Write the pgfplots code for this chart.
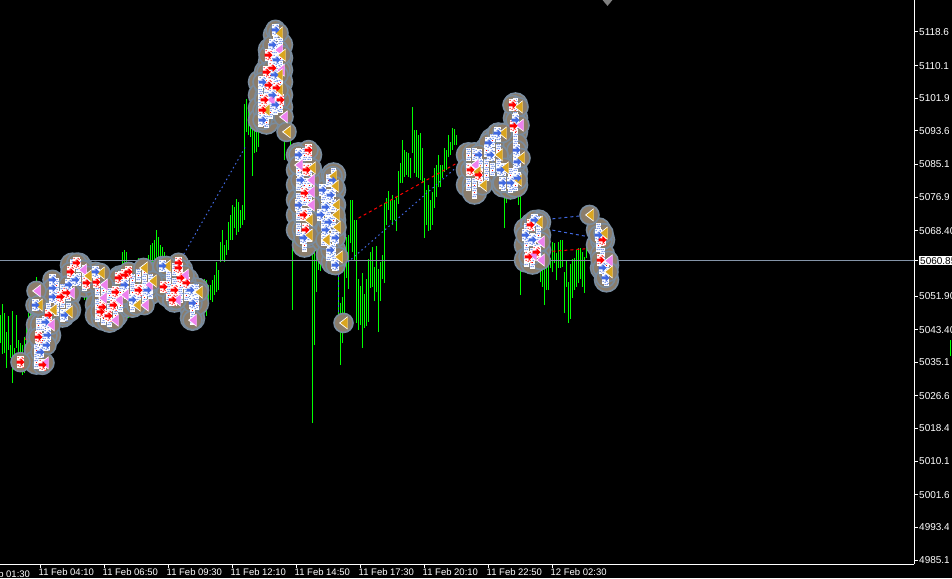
\documentclass[border=0pt]{standalone}
\usepackage{fontspec}
\setmainfont{Liberation Sans}
\usepackage{pgfplots}
\usepackage{pgfplotstable}
\pgfplotsset{compat=1.18}
\definecolor{bargreen}{HTML}{00FF00}
\definecolor{blobfill}{HTML}{8B7D6B}
\definecolor{blobline}{HTML}{7A8C9E}
\definecolor{mblue}{HTML}{4169E1}
\definecolor{mviolet}{HTML}{EE82EE}
\definecolor{mgold}{HTML}{DAA520}
\definecolor{priceline}{HTML}{8494A8}
% ---- plot marks
\pgfdeclareplotmark{blob}{\pgfpathcircle{\pgfpointorigin}{9.5pt}\pgfusepathqfillstroke}
\pgfdeclareplotmark{blobbig}{\pgfpathcircle{\pgfpointorigin}{12pt}\pgfusepathqfillstroke}
\newcommand{\dotat}[2]{\pgfpathrectangle{\pgfqpoint{#1pt}{#2pt}}{\pgfqpoint{1pt}{1pt}}}
\newcommand{\whitecol}{\pgfsetfillcolor{white}\pgfpathrectangle{\pgfqpoint{-3.5pt}{-6pt}}{\pgfqpoint{7pt}{12pt}}\pgfusepathqfill}
\pgfdeclareplotmark{whiteR}{\whitecol
  \pgfsetfillcolor{red}\dotat{-3}{4}\dotat{1}{4}\dotat{-1}{2}\dotat{2}{3}\dotat{1}{-4}\dotat{-3}{-4}\dotat{-1}{-5}\dotat{2}{-6}\pgfusepathqfill}
\pgfdeclareplotmark{whiteB}{\whitecol
  \pgfsetfillcolor{mblue}\dotat{-3}{4}\dotat{1}{4}\dotat{-1}{2}\dotat{2}{3}\dotat{1}{-4}\dotat{-3}{-4}\dotat{-1}{-5}\dotat{2}{-6}\pgfusepathqfill}
\pgfdeclareplotmark{whiteM}{\pgfsetfillcolor{white}\pgfpathrectangle{\pgfqpoint{-2.5pt}{-6.5pt}}{\pgfqpoint{5pt}{13pt}}\pgfusepathqfill
  \pgfsetfillcolor{mblue}\dotat{-2}{5}\dotat{0}{5}\dotat{-1}{3}\dotat{1}{3}\dotat{-2}{1}\dotat{0}{1}\dotat{-1}{-3}\dotat{1}{-3}\dotat{-2}{-5}\dotat{0}{-5}\pgfusepathqfill
  \pgfsetfillcolor{red}\dotat{-1}{-1}\pgfusepathqfill}
\pgfdeclareplotmark{arrowRt}{%
  \pgfpathmoveto{\pgfqpoint{-4pt}{-1.5pt}}\pgfpathlineto{\pgfqpoint{-4pt}{1.5pt}}\pgfpathlineto{\pgfqpoint{0pt}{1.5pt}}%
  \pgfpathlineto{\pgfqpoint{0pt}{4pt}}\pgfpathlineto{\pgfqpoint{4pt}{0pt}}\pgfpathlineto{\pgfqpoint{0pt}{-4pt}}\pgfpathlineto{\pgfqpoint{0pt}{-1.5pt}}\pgfpathclose\pgfusepathqfill}
\newcommand{\trishape}[1]{%
  \pgfsetfillcolor{white}\pgfpathmoveto{\pgfqpoint{-4.5pt}{0pt}}\pgfpathlineto{\pgfqpoint{4pt}{6.5pt}}\pgfpathlineto{\pgfqpoint{4pt}{-6.5pt}}\pgfpathclose\pgfusepathqfill
  \pgfsetfillcolor{#1}\pgfpathmoveto{\pgfqpoint{-3pt}{0pt}}\pgfpathlineto{\pgfqpoint{4pt}{5.5pt}}\pgfpathlineto{\pgfqpoint{4pt}{-5.5pt}}\pgfpathclose\pgfusepathqfill}
\pgfdeclareplotmark{triV}{\trishape{mviolet}}
\pgfdeclareplotmark{triG}{\trishape{mgold}}
\pgfdeclareplotmark{downtri}{\pgfpathmoveto{\pgfqpoint{-5pt}{3pt}}\pgfpathlineto{\pgfqpoint{5pt}{3pt}}\pgfpathlineto{\pgfqpoint{0pt}{-3pt}}\pgfpathclose\pgfusepathqfill}
% ---- bars that stand clear of the markers (bar, low, high)
\pgfplotstableread{
i lo hi
0 5040.0 5047.1
1 5037.3 5049.9
2 5037.5 5047.6
3 5033.7 5042.8
4 5038.3 5046.9
5 5036.2 5039.5
6 5029.9 5048.1
7 5035.2 5038.8
8 5038.8 5047.1
9 5033.2 5040.8
10 5032.7 5040.0
11 5031.9 5039.5
12 5032.5 5041.6
13 5038.3 5045.3
14 5043.3 5047.6
15 5044.6 5048.4
18 5052.9 5056.7
28 5054.2 5058.0
29 5053.4 5058.0
32 5045.1 5047.1
39 5055.2 5058.5
45 5058.0 5060.3
46 5058.0 5059.7
48 5058.5 5059.7
55 5043.6 5045.1
61 5059.2 5063.0
62 5059.7 5063.5
63 5059.2 5063.0
64 5046.3 5048.4
69 5060.2 5061.5
73 5055.9 5061.5
74 5057.2 5062.3
75 5058.5 5064.8
76 5057.2 5065.3
77 5058.5 5066.1
78 5059.7 5068.6
79 5059.7 5066.8
80 5060.5 5064.8
81 5060.5 5064.3
82 5060.5 5063.0
83 5058.5 5061.0
96 5045.3 5049.6
98 5050.9 5054.7
99 5051.5 5055.4
100 5051.7 5055.4
101 5050.9 5055.4
102 5050.4 5056.2
103 5046.9 5055.9
104 5050.4 5054.7
105 5050.9 5054.7
106 5050.4 5055.9
107 5052.2 5057.2
108 5052.9 5060.5
109 5053.4 5058.5
110 5060.5 5065.6
111 5061.0 5068.6
112 5060.5 5064.8
113 5062.3 5066.1
114 5063.5 5070.6
115 5066.1 5072.4
116 5066.1 5074.9
117 5069.1 5074.4
118 5067.3 5076.4
119 5068.1 5075.7
120 5069.1 5073.7
121 5069.8 5074.9
122 5071.1 5100.4
123 5093.4 5101.7
124 5092.6 5099.7
125 5092.1 5097.2
126 5082.2 5094.6
127 5088.0 5095.6
128 5088.3 5094.6
129 5089.6 5095.1
142 5086.3 5096.4
143 5092.1 5099.4
144 5092.1 5099.4
145 5088.0 5092.6
146 5048.4 5088.0
147 5064.8 5086.3
148 5063.5 5086.3
156 5019.8 5066.1
157 5039.5 5067.8
158 5052.9 5065.3
159 5058.5 5063.5
160 5058.2 5067.8
161 5060.5 5062.3
168 5058.5 5060.5
169 5044.1 5058.5
170 5034.5 5050.1
171 5040.0 5051.7
172 5043.3 5059.2
173 5056.5 5066.8
174 5053.7 5067.3
175 5065.3 5076.2
176 5063.0 5076.2
177 5061.0 5071.1
178 5045.1 5071.1
179 5043.3 5056.2
180 5044.6 5054.4
181 5038.8 5057.7
182 5043.8 5052.4
183 5044.3 5056.2
184 5045.3 5061.2
185 5053.9 5063.0
186 5054.2 5064.3
187 5050.6 5059.2
188 5052.9 5064.5
189 5042.8 5058.7
190 5050.6 5060.5
191 5056.2 5062.3
192 5055.2 5075.4
193 5069.9 5076.7
194 5073.7 5078.4
195 5071.1 5076.2
196 5069.9 5077.4
197 5071.1 5076.2
198 5068.3 5076.9
199 5075.2 5083.5
200 5080.5 5085.5
201 5080.5 5091.3
202 5082.0 5088.8
203 5082.5 5088.3
204 5082.0 5088.0
205 5081.7 5086.8
206 5088.0 5099.7
207 5083.0 5093.9
208 5082.0 5093.9
209 5081.7 5092.6
210 5081.2 5093.1
211 5080.7 5089.3
212 5066.6 5081.7
213 5069.9 5078.7
214 5068.3 5079.9
215 5068.6 5076.2
216 5069.9 5078.2
217 5074.2 5084.3
218 5076.9 5085.0
219 5079.4 5087.6
220 5079.4 5085.0
221 5081.7 5085.0
222 5083.3 5089.3
223 5083.8 5088.8
224 5087.0 5092.6
225 5087.6 5090.8
226 5088.8 5094.4
227 5090.1 5094.1
228 5090.1 5092.6
229 5083.8 5088.0
230 5080.5 5088.5
231 5079.4 5087.0
233 5076.7 5078.7
252 5069.1 5078.7
253 5075.4 5078.0
255 5076.2 5078.0
259 5074.9 5083.3
260 5052.2 5083.3
270 5055.4 5062.8
271 5054.2 5061.0
272 5049.6 5061.0
273 5053.4 5066.6
274 5053.4 5064.3
275 5059.0 5061.5
276 5058.0 5065.6
277 5060.3 5065.3
278 5055.9 5062.8
279 5059.0 5065.6
280 5059.0 5066.1
281 5059.2 5066.1
282 5047.6 5058.0
283 5054.2 5061.0
284 5045.1 5055.4
285 5046.1 5060.0
286 5051.4 5061.2
287 5053.4 5061.5
288 5054.2 5063.5
289 5055.2 5064.0
290 5056.2 5064.0
291 5054.2 5063.0
292 5052.7 5061.8
293 5061.5 5064.0
294 5063.5 5073.1
295 5064.8 5069.9
296 5066.1 5073.1
297 5067.8 5073.1
298 5063.5 5073.1
475 5036.7 5040.8
}\barsClear
% ---- bars lying under the markers
\pgfplotstableread{
i lo hi
16 5045.8 5050.9
17 5048.4 5053.4
19 5050.9 5054.7
20 5040.8 5047.1
21 5040.8 5047.1
22 5041 5048
23 5042 5049
24 5044 5052
25 5046 5054
26 5047 5056
27 5049 5056
30 5050 5056
31 5048 5054
33 5048 5056
34 5050 5058
35 5054 5060
36 5054 5060
37 5053 5060
38 5054 5060
40 5054 5060
41 5052 5058
42 5051 5057
43 5051 5057
44 5051 5057
47 5052 5058
49 5049 5056
50 5048 5054
51 5046 5053
52 5046 5052
53 5046 5052
54 5045 5052
56 5047 5053
57 5047 5053
58 5049 5056
59 5050 5057
60 5051 5057
65 5051 5058
66 5051 5057
67 5051 5057
68 5051 5057
70 5050 5056
71 5050 5056
72 5050 5056
84 5052 5058
85 5052 5058
86 5050 5056
87 5050 5056
88 5050 5056
89 5053 5059
90 5053 5059
91 5052 5058
92 5052 5058
93 5051 5057
94 5050 5056
95 5048 5054
97 5050 5054
130 5095 5105
131 5098 5108
132 5100 5110
133 5103 5112
134 5105 5115
135 5107 5116
136 5110 5118
137 5108 5118
138 5106 5116
139 5104 5112
140 5100 5108
141 5096 5102
149 5072 5085
150 5066 5085
151 5066 5086
152 5066 5086
153 5066 5086
154 5070 5086
155 5075 5084
162 5068 5078
163 5065 5080
164 5062 5080
165 5062 5080
166 5062 5080
167 5062 5078
232 5080 5088
234 5080 5087
235 5079 5086
236 5080 5086
237 5080 5086
238 5080 5086
239 5080 5087
240 5081 5087
241 5081 5088
242 5083 5088
243 5083 5089
244 5084 5090
245 5084 5091
246 5084 5092
247 5084 5092
248 5083 5092
249 5082 5092
250 5081 5088
251 5080 5086
254 5081 5087
256 5085 5098
257 5085 5100
258 5082 5100
261 5062 5072
262 5061 5070
263 5061 5070
264 5060 5070
265 5060 5072
266 5060 5072
267 5060 5072
268 5060 5070
269 5059 5068
299 5060 5070
300 5058 5068
301 5058 5068
302 5057 5066
303 5057 5064
304 5056 5062
}\barsUnder
% ---- trade markers: bar, price
\pgfplotstableread{
x y
10 5035.2
21 5034.5
19 5041.5
24 5047.1
33 5052.7
30 5051.7
38 5060.3
35 5058.0
43 5055.2
48 5055.4
51 5049.1
56.5 5049.6
54 5046.9
50 5047.9
59 5056.5
62 5057.2
69 5053.4
57.5 5052.9
64 5058.0
89 5060.3
81.5 5054.2
87 5053.4
90 5056.5
93 5055.2
86 5050.9
89 5059.0
134 5112.8
134 5105.2
132 5101.5
131 5098.9
140 5101.5
133 5108.5
136 5109.5
138 5104.5
154 5088.8
152 5077.9
151.5 5072.4
152.5 5068.6
153 5083.8
235 5083.8
239 5082.5
256 5100.2
256.5 5094.9
264 5061.8
268 5063.0
265 5069.9
300 5061.0
301 5066.1
}\tradesR
\pgfplotstableread{
x y
22.5 5045.3
23.5 5042.0
20 5037.7
26 5056.0
26 5053.9
26 5051.7
32 5047.1
34 5054.7
37.5 5056.0
47.5 5058.0
62 5054.7
66 5050.9
73.5 5053.4
81 5059.5
95 5053.4
96 5050.1
23 5039.5
17.5 5049.6
137.5 5119.2
136 5115.4
138 5111.6
137 5107.8
131 5106.0
136 5102.7
137.5 5100.2
131 5096.4
149 5087.6
150 5081.2
151.5 5066.6
149 5074.9
165 5077.4
162.5 5074.4
160 5072.4
162.5 5068.6
167.5 5066.6
167.5 5059.7
161 5078.7
164 5070.6
165 5063.5
166 5081.2
244 5090.6
248.5 5093.1
250 5083.8
251 5080.5
257.5 5096.4
258 5088.8
258.5 5085.8
258.5 5081.7
255 5080.5
245 5087.6
239 5087.6
267 5071.1
262.5 5067.3
299 5067.3
301 5059.0
302.5 5056.5
266 5066.1
}\tradesB
\pgfplotstableread{
x y
18 5053.2
22 5035.0
25 5044.6
35 5052.7
51.5 5054.7
51 5051.4
59 5050.9
57 5045.8
74 5054.7
62 5052.2
92 5057.2
88 5050.9
96 5045.8
72 5049.6
41 5058.5
139 5114.1
135 5101.5
141.5 5097.2
140 5109.0
149 5085.0
155 5081.2
155 5078.2
155 5074.9
237 5085.0
259.5 5095.1
270 5065.6
270 5061.0
266 5062.3
304 5060.8
}\tradesV
\pgfplotstableread{
x y
19 5049.6
26 5048.4
34 5047.9
43.5 5057.0
50 5057.7
68 5049.6
71.5 5059.0
76 5055.7
83 5059.5
99 5052.9
139 5118.4
139 5107.8
139 5104.0
132.5 5098.9
143 5093.4
140.5 5112.8
155.5 5084.3
154 5071.1
154 5067.3
166 5082.2
167 5079.7
167.5 5074.9
167.5 5072.4
162.5 5066.1
169 5061.8
168 5069.3
171.5 5045.1
238 5083.3
241 5079.9
251 5093.1
249 5087.6
252 5084.3
258.5 5081.2
259 5099.7
260 5086.8
269 5070.6
294.5 5072.4
301.5 5067.8
304 5058.0
}\tradesG
% ---- the small dotted markers that make up the white columns
\pgfplotstableread{
x y
19 5044.6
19 5041.5
18 5038.2
18 5035.2
21 5044.6
21 5040.8
24 5048.4
24 5045.3
24 5042.0
28 5054.7
28 5051.7
28 5048.4
31 5053.4
31 5050.4
31 5047.1
34 5052.2
34 5048.4
36 5059.7
36 5056.0
39 5059.7
39 5056.0
42 5058.0
42 5054.7
48.5 5057.2
48.5 5053.4
48.5 5049.6
48.5 5047.1
51.5 5053.4
51.5 5049.6
51.5 5046.3
54.5 5052.2
54.5 5048.4
54.5 5045.8
57.5 5050.9
57.5 5047.1
60 5056.5
60 5052.9
60 5049.6
63 5056.5
63 5052.9
66 5055.9
66 5052.9
66 5049.6
69 5057.2
69 5052.2
72 5058.0
72 5054.7
72 5051.7
75 5055.9
75 5052.9
84 5058.5
84 5055.4
84 5052.2
87 5058.5
87 5054.7
87 5050.9
90 5058.5
90 5054.7
90 5051.7
93 5055.9
93 5052.2
96 5052.2
96 5048.4
96 5046.3
98 5053.4
98 5050.1
130 5106.0
130 5102.7
130 5099.4
130 5096.4
133 5108.5
133 5105.2
133 5102.0
133 5098.9
133 5095.9
135 5114.1
135 5111.1
135 5107.8
135 5104.5
135 5101.5
135 5098.4
137.5 5117.9
137.5 5114.6
137.5 5111.6
137.5 5108.5
137.5 5105.2
137.5 5102.2
137.5 5099.4
140 5115.4
140 5112.1
140 5109.0
140 5106.0
140 5102.7
140 5099.7
149 5087.6
149 5083.8
149 5080.0
149 5076.2
149 5072.4
149 5068.6
152 5087.6
152 5083.8
152 5080.0
152 5076.2
152 5072.4
152 5068.6
152 5064.8
154.5 5087.6
154.5 5083.8
154.5 5080.0
154.5 5076.2
154.5 5072.4
154.5 5067.3
161.5 5077.4
161.5 5073.7
161.5 5069.9
161.5 5066.1
164 5081.2
164 5077.4
164 5073.7
164 5069.9
164 5066.1
164 5062.3
166.5 5082.5
166.5 5078.7
166.5 5074.9
166.5 5071.1
166.5 5067.3
166.5 5063.5
166.5 5060.5
234 5087.6
234 5083.8
234 5080.0
237 5087.6
237 5083.8
237 5080.0
237 5078.2
240 5085.0
240 5081.2
243 5088.8
243 5085.0
243 5082.5
246 5091.3
246 5087.6
246 5083.8
249 5092.6
249 5088.8
249 5085.0
251.5 5083.8
251.5 5080.0
255 5082.5
255 5079.5
257.5 5100.2
257.5 5096.9
257.5 5093.4
257.5 5090.1
257.5 5086.8
257.5 5083.3
257.5 5080.0
263 5068.6
263 5064.8
263 5061.0
266 5069.9
266 5066.1
266 5062.3
266 5060.5
269 5070.6
269 5067.3
269 5063.5
299 5068.6
299 5064.8
301 5066.1
301 5062.3
301 5059.0
303 5059.7
303 5056.0
}\tradesW
\newcommand{\blobs}[2][blob]{\addplot[only marks,mark=#1,mark options={fill=blobfill,draw=blobline,line width=1.6pt},forget plot] table[x=x,y=y]{#2};}
\begin{document}
\begin{tikzpicture}[x=1pt,y=1pt]
\clip (0,0) rectangle (952,578);
\fill[black] (0,0) rectangle (952,578);
\begin{axis}[
  at={(0pt,14pt)},anchor=south west,scale only axis,width=914pt,height=564pt,
  xmin=-0.25,xmax=456.75,ymin=4984.16,ymax=5126.74,clip=false,
  axis x line=bottom,axis y line=right,axis line style={white,line width=1pt,-},
  tick style={white,line width=1pt},tickwidth=4pt,tick align=outside,
  xtick={20,52,84,116,148,180,212,244,276},
  xticklabels={11 Feb 04:10,11 Feb 06:50,11 Feb 09:30,11 Feb 12:10,11 Feb 14:50,11 Feb 17:30,11 Feb 20:10,11 Feb 22:50,12 Feb 02:30},
  xticklabel style={anchor=north west,xshift=-3pt,yshift=1pt,font=\fontsize{9.5}{11}\selectfont,text=white,inner sep=1pt},
  ytick={5118.65,5110.15,5101.90,5093.65,5085.15,5076.90,5068.40,5060.85,5051.90,5043.40,5035.15,5026.65,5018.40,5010.15,5001.65,4993.40,4985.15},
  yticklabels={5118.65,5110.15,5101.90,5093.65,5085.15,5076.90,5068.40,{\setlength{\fboxsep}{1pt}\colorbox{white}{\textcolor{black}{5060.85}}},5051.90,5043.40,5035.15,5026.65,5018.40,5010.15,5001.65,4993.40,4985.15},
  yticklabel style={anchor=west,xshift=0pt,font=\fontsize{10}{12}\selectfont,text=white,inner sep=1pt},
  axis on top=false,
]
\addplot[draw=none,mark=none,forget plot,error bars/.cd,y dir=plus,y explicit,error mark=none,error bar style={draw=bargreen,line width=1pt,solid}] table[x=i,y=lo,y error expr=\thisrow{hi}-\thisrow{lo}]{\barsUnder};
\blobs[blobbig]{\tradesW}
\blobs{\tradesR}
\blobs{\tradesB}
\blobs{\tradesV}
\blobs{\tradesG}
\addplot[draw=none,mark=none,forget plot,error bars/.cd,y dir=plus,y explicit,error mark=none,error bar style={draw=bargreen,line width=1pt,solid}] table[x=i,y=lo,y error expr=\thisrow{hi}-\thisrow{lo}]{\barsClear};
% price line
\addplot[priceline,line width=1pt,forget plot] coordinates {(-0.25,5060.85)(456.75,5060.85)};
% trend lines
\addplot[mblue,line width=1pt,dash pattern=on 1.5pt off 3pt,forget plot] coordinates {(90.5,5061.5)(123,5090.1)};
\addplot[mblue,line width=1pt,dash pattern=on 1.5pt off 3pt,forget plot] coordinates {(172,5059.7)(231,5085.8)};
\addplot[mblue,line width=1pt,dash pattern=on 2pt off 3pt,forget plot] coordinates {(169,5059.7)(169,5045)};
\addplot[red,line width=1pt,dash pattern=on 3pt off 3pt,forget plot] coordinates {(179,5071.6)(231,5086.3)};
\addplot[red,line width=1pt,dash pattern=on 3pt off 2pt,forget plot] coordinates {(251.5,5095.1)(256,5098.9)};
\addplot[red,line width=1pt,dash pattern=on 2pt off 1pt,forget plot] coordinates {(12.5,5040.8)(16.5,5048.4)};
\addplot[mblue,line width=1pt,dash pattern=on 3pt off 3pt,forget plot] coordinates {(270,5071.1)(294.5,5072.4)};
\addplot[mblue,line width=1pt,dash pattern=on 3pt off 3pt,forget plot] coordinates {(270,5069.1)(295,5066.8)};
\addplot[red,line width=1pt,dash pattern=on 3pt off 3pt,forget plot] coordinates {(270,5063.0)(297,5064.0)};
% white columns and symbols
\addplot[only marks,mark=whiteM,forget plot] table[x=x,y=y]{\tradesW};
\addplot[only marks,mark=whiteR,forget plot] table[x=x,y=y]{\tradesR};
\addplot[only marks,mark=whiteB,forget plot] table[x=x,y=y]{\tradesB};
\addplot[only marks,mark=triV,forget plot] table[x=x,y=y]{\tradesV};
\addplot[only marks,mark=triG,forget plot] table[x=x,y=y]{\tradesG};
\addplot[only marks,mark=arrowRt,mark options={fill=red,draw=none},forget plot] table[x=x,y=y]{\tradesR};
\addplot[only marks,mark=arrowRt,mark options={fill=mblue,draw=none},forget plot] table[x=x,y=y]{\tradesB};
% chart shift marker
\addplot[only marks,mark=downtri,mark options={fill=gray,draw=none},forget plot] coordinates {(303.5,5126.0)};
\node[anchor=north west,inner sep=1pt,text=white,font=\fontsize{9.5}{11}\selectfont] at (axis cs:-13.5,4982.9) {11 Feb 01:30};
\end{axis}
\fill[black] (949,358) rectangle (952,578);
\fill[black] (949,0) rectangle (952,222);
\end{tikzpicture}
\end{document}
